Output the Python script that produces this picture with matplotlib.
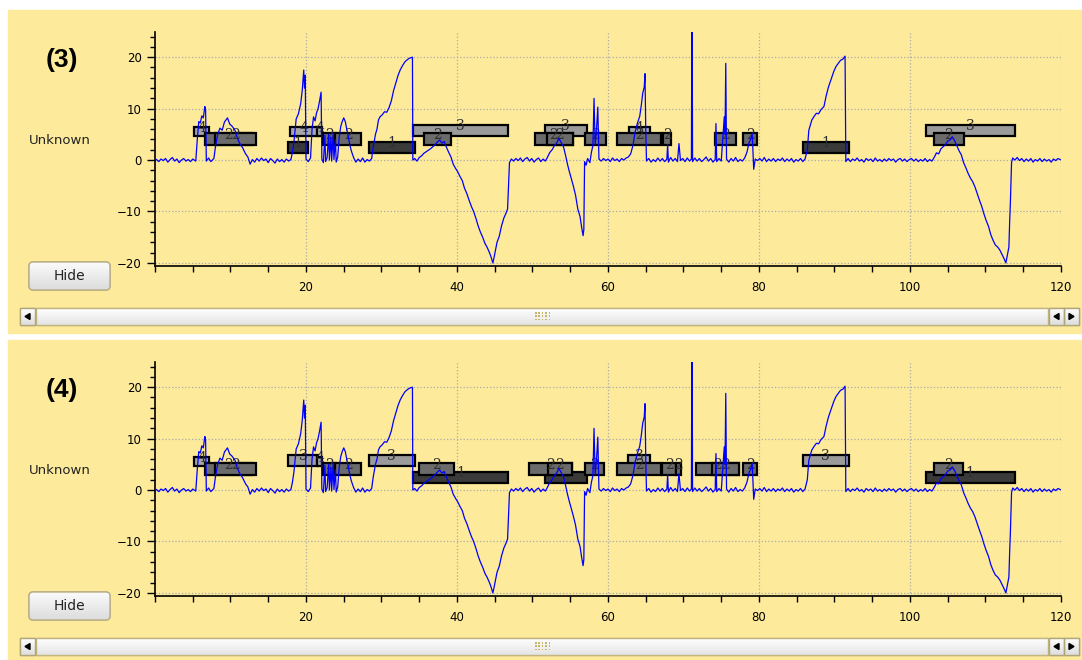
import numpy as np
import matplotlib
matplotlib.use("Agg")
import matplotlib.pyplot as plt
from matplotlib.patches import Rectangle, FancyBboxPatch, Polygon
from matplotlib.ticker import MultipleLocator

# signal (time, value)
signal = [
    (0.2, 0.1), (0.5, -0.3), (0.8, 0.2), (1.1, -0.1), (1.4, 0.3), (1.7, -0.4), (2.0, 0.1), (2.3, 0.5),
    (2.6, -0.2), (2.9, 0.2), (3.2, -0.5), (3.5, 0.0), (3.8, 0.3), (4.1, -0.2), (4.4, 0.1), (4.7, -0.3),
    (5.0, 0.2), (5.4, -0.2), (5.6, 4.0), (5.8, 7.5), (6.0, 7.2), (6.2, 8.6), (6.4, 8.2), (6.6, 10.4),
    (6.7, 9.8), (6.8, -0.2), (7.1, 0.4), (7.4, -0.3), (7.8, 0.3), (8.0, 2.5), (8.3, 5.0), (8.6, 6.2),
    (8.9, 5.8), (9.2, 7.4), (9.6, 8.2), (9.9, 7.0), (10.2, 6.6), (10.6, 5.8), (10.9, 4.3), (11.2, 3.3),
    (11.6, 2.4), (12.0, 1.2), (12.3, 0.6), (12.6, -0.8), (12.9, 0.1), (13.2, -0.4), (13.5, 0.3),
    (13.8, -0.2), (14.1, 0.4), (14.4, -0.1), (14.7, 0.2), (15.0, -0.5), (15.3, 0.3), (15.6, -0.1),
    (15.9, -0.6), (16.2, 0.2), (16.5, -0.3), (16.8, 0.1), (17.1, -0.4), (17.4, 0.2), (17.7, -0.2),
    (18.0, 0.1), (18.2, 1.5), (18.4, 3.5), (18.7, 8.0), (19.0, 9.0), (19.3, 11.0), (19.5, 13.5),
    (19.7, 17.5), (19.8, 14.0), (19.9, 16.5), (20.0, 0.2), (20.3, -0.3), (20.6, 0.4), (20.8, 6.0),
    (21.0, 8.4), (21.2, 7.6), (21.4, 9.2), (21.6, 10.0), (21.8, 11.5), (22.0, 13.2), (22.1, 0.2),
    (22.3, -0.5), (22.5, 4.8), (22.6, -0.3), (22.8, 0.5), (23.0, 5.0), (23.1, 0.0), (23.3, 4.5),
    (23.4, -0.2), (23.6, 5.2), (23.7, 0.1), (23.9, 4.0), (24.0, -0.4), (24.2, 0.6), (24.4, 4.5),
    (24.6, 6.5), (24.8, 7.5), (25.0, 8.2), (25.2, 7.5), (25.4, 6.0), (25.6, 4.5), (25.8, 3.0),
    (26.0, 1.8), (26.3, 0.5), (26.6, -0.4), (26.9, 0.2), (27.2, -0.3), (27.5, 0.4), (27.8, -0.4),
    (28.1, 0.1), (28.4, -0.2), (28.7, 0.3), (28.9, 2.5), (29.2, 5.0), (29.4, 6.0), (29.6, 7.8),
    (29.8, 8.4), (30.1, 8.8), (30.4, 9.4), (30.7, 9.3), (31.0, 10.2), (31.3, 11.5), (31.6, 13.5),
    (31.9, 15.0), (32.2, 16.5), (32.5, 17.6), (32.8, 18.4), (33.1, 19.1), (33.4, 19.5), (33.7, 19.8),
    (34.1, 20.0), (34.15, 0.0), (34.4, 0.3), (34.7, -0.2), (35.0, 0.5), (35.3, 0.8), (35.6, 1.3),
    (35.9, 1.6), (36.2, 1.9), (36.5, 2.2), (36.8, 2.6), (37.1, 3.0), (37.4, 3.5), (37.7, 3.9),
    (38.0, 3.3), (38.3, 3.6), (38.6, 2.5), (38.9, 1.5), (39.2, 0.6), (39.5, -0.8), (39.8, -1.6),
    (40.1, -2.3), (40.4, -3.2), (40.7, -4.0), (41.0, -5.5), (41.3, -6.5), (41.6, -7.8), (41.9, -9.0),
    (42.2, -10.0), (42.5, -11.3), (42.8, -12.8), (43.1, -14.0), (43.4, -15.0), (43.7, -16.2),
    (44.0, -17.0), (44.3, -18.0), (44.5, -18.8), (44.75, -20.0), (44.9, -19.0), (45.1, -17.5),
    (45.3, -16.0), (45.6, -14.8), (45.9, -12.8), (46.2, -11.3), (46.5, -10.3), (46.7, -9.5),
    (46.85, -4.0), (46.95, -0.5), (47.2, 0.2), (47.5, -0.2), (47.8, 0.3), (48.1, -0.1), (48.4, 0.4),
    (48.7, -0.3), (49.0, 0.2), (49.3, 0.5), (49.6, -0.2), (49.9, 0.3), (50.2, -0.4), (50.5, 0.1),
    (50.8, 0.4), (51.1, -0.3), (51.4, 0.2), (51.7, -0.2), (52.0, 0.6), (52.3, 1.5), (52.6, 2.0),
    (52.9, 2.8), (53.2, 3.3), (53.5, 4.2), (53.8, 3.4), (54.1, 2.6), (54.4, 0.8), (54.6, -0.6),
    (54.8, -1.8), (55.1, -3.4), (55.4, -5.0), (55.7, -6.8), (56.0, -9.5), (56.3, -11.0), (56.5, -13.0),
    (56.7, -14.7), (56.8, -13.5), (56.9, -0.3), (57.1, -1.0), (57.3, 0.3), (57.6, -0.5), (57.8, 1.5),
    (58.0, 2.8), (58.15, 12.0), (58.3, 3.0), (58.5, 6.5), (58.65, 10.3), (58.8, 0.2), (59.1, -0.2),
    (59.4, 0.3), (59.7, -0.1), (60.0, 0.2), (60.3, -0.3), (60.6, 0.4), (60.9, -0.1), (61.2, 0.2),
    (61.5, -0.3), (61.8, 0.3), (62.1, 0.0), (62.4, 0.4), (62.7, 0.6), (63.0, 1.2), (63.3, 2.8),
    (63.6, 5.5), (63.9, 7.2), (64.2, 8.5), (64.4, 10.5), (64.6, 13.0), (64.8, 14.2), (64.9, 16.8),
    (65.0, 6.0), (65.1, -0.2), (65.4, 0.3), (65.7, -0.4), (66.0, 0.1), (66.3, -0.3), (66.6, 0.4),
    (66.9, -0.2), (67.2, 0.3), (67.5, -0.3), (67.8, 0.2), (67.9, 3.0), (68.0, -0.4), (68.3, 0.5),
    (68.6, -0.2), (68.9, 0.3), (69.2, -0.3), (69.4, 3.2), (69.6, -0.1), (69.9, 0.3), (70.2, -0.3),
    (70.5, 0.4), (70.8, -0.2), (71.05, 0.2), (71.1, 25.5), (71.15, 25.5), (71.2, -0.3), (71.5, 0.4),
    (71.8, -0.2), (72.1, 0.3), (72.4, -0.3), (72.7, 0.1), (73.0, 0.6), (73.3, -0.2), (73.6, 0.3),
    (73.9, -0.4), (74.2, 0.1), (74.3, 7.1), (74.4, -0.3), (74.7, 0.3), (75.0, -0.2), (75.2, 4.0),
    (75.4, 8.4), (75.5, 5.0), (75.6, 18.8), (75.7, 0.2), (76.0, -0.4), (76.3, 0.3), (76.6, -0.2),
    (76.9, 0.5), (77.2, -0.3), (77.5, 0.1), (77.8, -0.2), (78.1, 0.4), (78.4, 1.5), (78.7, 3.5),
    (78.9, 4.0), (79.1, 5.2), (79.3, -1.8), (79.5, 0.2), (79.8, -0.1), (80.1, 0.3), (80.4, -0.2),
    (80.7, 0.5), (81.0, -0.3), (81.3, 0.2), (81.6, -0.2), (81.9, 0.3), (82.2, -0.3), (82.5, 0.2),
    (82.8, -0.1), (83.1, 0.4), (83.4, -0.3), (83.7, 0.2), (84.0, -0.2), (84.3, 0.3), (84.6, -0.4),
    (84.9, 0.1), (85.2, -0.2), (85.5, 0.3), (85.8, -0.3), (86.1, 0.2), (86.4, 2.0), (86.6, 5.8),
    (86.8, 6.8), (87.0, 7.8), (87.3, 8.5), (87.6, 9.1), (87.9, 9.0), (88.2, 9.8), (88.6, 10.4),
    (88.9, 12.5), (89.2, 14.2), (89.5, 15.5), (89.9, 17.2), (90.2, 18.2), (90.5, 18.8), (90.8, 19.4),
    (91.1, 19.6), (91.4, 20.2), (91.45, 10.0), (91.5, -0.3), (91.8, 0.3), (92.1, -0.3), (92.4, 0.2),
    (92.7, -0.1), (93.0, 0.4), (93.3, -0.2), (93.6, 0.1), (93.9, -0.4), (94.2, 0.3), (94.5, -0.1),
    (94.8, 0.2), (95.1, -0.3), (95.4, 0.4), (95.7, -0.2), (96.0, 0.1), (96.3, -0.3), (96.6, 0.2),
    (96.9, -0.2), (97.2, 0.3), (97.5, -0.1), (97.8, 0.2), (98.1, -0.4), (98.4, 0.1), (98.7, 0.3),
    (99.0, -0.2), (99.3, 0.2), (99.6, -0.3), (99.9, 0.1), (100.2, 0.3), (100.5, -0.2), (100.8, 0.2),
    (101.1, -0.3), (101.4, 0.1), (101.7, -0.2), (102.0, 0.3), (102.3, -0.3), (102.6, 0.1),
    (102.9, -0.2), (103.2, 0.5), (103.5, 1.4), (103.8, 1.2), (104.1, 2.2), (104.4, 2.6), (104.7, 3.0),
    (105.0, 3.7), (105.3, 3.9), (105.6, 4.5), (105.9, 3.8), (106.2, 2.8), (106.5, 1.8), (106.8, 1.0),
    (107.1, -0.5), (107.4, -1.5), (107.7, -2.6), (108.0, -3.5), (108.3, -4.2), (108.6, -5.2),
    (108.9, -6.5), (109.2, -7.8), (109.5, -9.0), (109.8, -10.5), (110.1, -11.8), (110.4, -12.9),
    (110.7, -14.5), (111.0, -15.6), (111.3, -16.5), (111.6, -16.9), (111.9, -17.5), (112.2, -18.4),
    (112.5, -19.3), (112.7, -20.0), (112.9, -18.5), (113.1, -16.9), (113.2, -12.0), (113.3, -8.1),
    (113.45, -0.5), (113.6, 0.4), (113.9, 0.0), (114.2, 0.5), (114.5, -0.1), (114.8, 0.3),
    (115.1, -0.3), (115.4, 0.2), (115.7, -0.2), (116.0, 0.3), (116.3, -0.4), (116.6, 0.1),
    (116.9, -0.2), (117.2, 0.3), (117.5, -0.3), (117.8, 0.2), (118.1, -0.2), (118.4, 0.1),
    (118.7, -0.4), (119.0, 0.2), (119.3, -0.1), (119.6, 0.3), (119.9, 0.1),
]

# segments (label, start, end) for each panel
segments_3 = [
    (4, 5.2, 7.2), (2, 6.6, 12.8), (2, 8.0, 13.4), (1, 17.6, 20.3), (4, 17.9, 21.7),
    (4, 21.5, 22.1), (2, 22.3, 24.0), (2, 23.9, 27.3), (1, 28.3, 34.4), (3, 34.2, 46.8),
    (2, 35.6, 39.2), (3, 51.6, 57.2), (2, 50.3, 55.3), (2, 51.9, 55.3), (2, 57.0, 59.7),
    (2, 61.2, 67.0), (4, 62.8, 65.5), (2, 67.3, 68.4), (2, 74.2, 76.9), (2, 77.9, 79.8),
    (1, 85.8, 91.9), (3, 102.1, 113.85), (2, 103.2, 107.1),
]
segments_4 = [
    (4, 5.2, 7.2), (2, 6.6, 12.8), (2, 8.0, 13.4), (3, 17.6, 21.6), (4, 21.5, 22.1),
    (2, 22.3, 24.0), (2, 23.9, 27.3), (3, 28.3, 34.4), (1, 34.2, 46.8), (2, 35.0, 39.6),
    (1, 51.6, 57.2), (2, 49.5, 55.2), (2, 52.0, 55.2), (2, 56.9, 59.5), (2, 61.2, 67.0),
    (3, 62.7, 65.5), (2, 67.2, 69.0), (2, 69.0, 69.7), (2, 71.6, 77.4), (2, 73.8, 77.4),
    (2, 77.9, 79.7), (3, 85.8, 91.9), (1, 102.1, 113.85), (2, 103.2, 107.0),
]

panel_titles = ["(3)", "(4)"]
row_label = "Unknown"

YEL = "#fdeb9b"
row_y = {1: (1.4, 3.6), 2: (3.0, 5.2), 3: (4.7, 6.9), 4: (4.7, 6.5)}
row_col = {1: "#3a3a3a", 2: "#6b6b6b", 3: "#9b9b9b", 4: "#a6a6a6"}
row_z = {3: 2, 4: 2.1, 1: 2.2, 2: 2.3}

fig = plt.figure(figsize=(10.82, 6.60), dpi=100)
fig.patch.set_facecolor("white")

# background / widget layer in pixel coordinates
bg = fig.add_axes([0, 0, 1, 1])
bg.set_xlim(0, 1082)
bg.set_ylim(660, 0)
bg.axis("off")

grad = np.linspace(0, 1, 64).reshape(-1, 1)


def gradient_patch(patch, top, bottom, x0, x1, y0, y1):
    bg.add_patch(patch)
    cm = matplotlib.colors.LinearSegmentedColormap.from_list("g", [top, bottom])
    im = bg.imshow(grad, cmap=cm, extent=(x0, x1, y1, y0), aspect="auto", zorder=patch.get_zorder() + 0.01)
    im.set_clip_path(patch)


def arrow(cx, cy, direction):
    # direction -1 points left, +1 points right
    d = 2.5 * direction
    bg.add_patch(Polygon([(cx + d, cy), (cx - d, cy - 3), (cx - d, cy + 3)], closed=True,
                         color="black", zorder=5))


def draw_widgets(top):
    bg.add_patch(Rectangle((8, top), 1074, 323 if top == 10 else 320, color=YEL, zorder=0))
    # Hide button
    by = top + 252
    btn = FancyBboxPatch((29, by), 81, 28, boxstyle="round,pad=0,rounding_size=4",
                         fc="#ececec", ec="#b8ad86", lw=1, zorder=3)
    gradient_patch(btn, "#fbfbfb", "#dcdcdc", 29, 110, by, by + 28)
    bg.add_patch(FancyBboxPatch((29, by), 81, 28, boxstyle="round,pad=0,rounding_size=4",
                                fc="none", ec="#b8ad86", lw=1, zorder=4))
    bg.text(69.5, by + 14.5, "Hide", ha="center", va="center", fontsize=10, color="#222222", zorder=5)
    # scrollbar
    sy = top + 298
    trk = Rectangle((36, sy), 1012, 17, fc="#f0f0f0", ec="#c2b57f", lw=1, zorder=3)
    gradient_patch(trk, "#ffffff", "#e4e4e4", 36, 1048, sy, sy + 17)
    bg.add_patch(Rectangle((36, sy), 1012, 17, fc="none", ec="#c2b57f", lw=1, zorder=4))
    for bx in (20, 1049, 1064):
        b = Rectangle((bx, sy), 15, 17, fc="#f4f4f4", ec="#b0a678", lw=1, zorder=3)
        gradient_patch(b, "#ffffff", "#dedede", bx, bx + 15, sy, sy + 17)
        bg.add_patch(Rectangle((bx, sy), 15, 17, fc="none", ec="#b0a678", lw=1, zorder=4))
    arrow(27.5, sy + 8.5, -1)
    arrow(1056.5, sy + 8.5, -1)
    arrow(1071.5, sy + 8.5, 1)
    for i in range(5):
        for j in range(3):
            bg.add_patch(Rectangle((535 + i * 3.4, sy + 4 + j * 3.4), 1.6, 1.6, color="#c8b46a", lw=0, zorder=5))


draw_widgets(10)
draw_widgets(340)

panel_segments = [segments_3, segments_4]
t = [p[0] for p in signal]
v = [p[1] for p in signal]

for k, (bottom, title) in enumerate(zip([0.59697, 0.09697], panel_titles)):
    off = 0 if k == 0 else 330
    bg.text(62, 60 + off, title, ha="center", va="center", fontsize=19, fontweight="bold",
            family="Liberation Sans", color="black", zorder=5)
    bg.text(60, 141 + off, row_label, ha="center", va="center", fontsize=9.5, color="#222222", zorder=5)

    ax = fig.add_axes([0.14325, bottom, 0.83734, 0.35455])
    ax.set_facecolor(YEL)
    ax.set_xlim(0, 120)
    ax.set_ylim(-20.6, 24.9)
    for s in ("top", "right"):
        ax.spines[s].set_visible(False)
    for s in ("left", "bottom"):
        ax.spines[s].set_linewidth(1.2)
    ax.xaxis.set_major_locator(MultipleLocator(20))
    ax.xaxis.set_minor_locator(MultipleLocator(5))
    ax.yaxis.set_major_locator(MultipleLocator(10))
    ax.yaxis.set_minor_locator(MultipleLocator(2))
    ax.set_xticks([20, 40, 60, 80, 100, 120])
    ax.tick_params(axis="x", which="both", length=4.5, width=1, direction="out", labelsize=8.5, pad=6)
    ax.tick_params(axis="y", which="major", length=5.5, width=1, direction="out", labelsize=8.5, pad=4)
    ax.tick_params(axis="y", which="minor", length=3.5, width=1, direction="out")
    ax.grid(True, which="major", linestyle=":", color="#aaaaaa", linewidth=0.9)
    ax.set_axisbelow(True)

    for lab, x0, x1 in panel_segments[k]:
        y0, y1 = row_y[lab]
        ax.add_patch(Rectangle((x0, y0), x1 - x0, y1 - y0, fc=row_col[lab], ec="black",
                               lw=1.6, zorder=row_z[lab]))
        ax.text((x0 + x1) / 2, y1 - 0.3, str(lab), ha="center", va="center", fontsize=10,
                family="DejaVu Serif", color="#303030", zorder=row_z[lab] + 0.05)

    ax.plot(t, v, color="#0000ff", lw=0.9, zorder=4)

fig.savefig("out.png", dpi=100)
